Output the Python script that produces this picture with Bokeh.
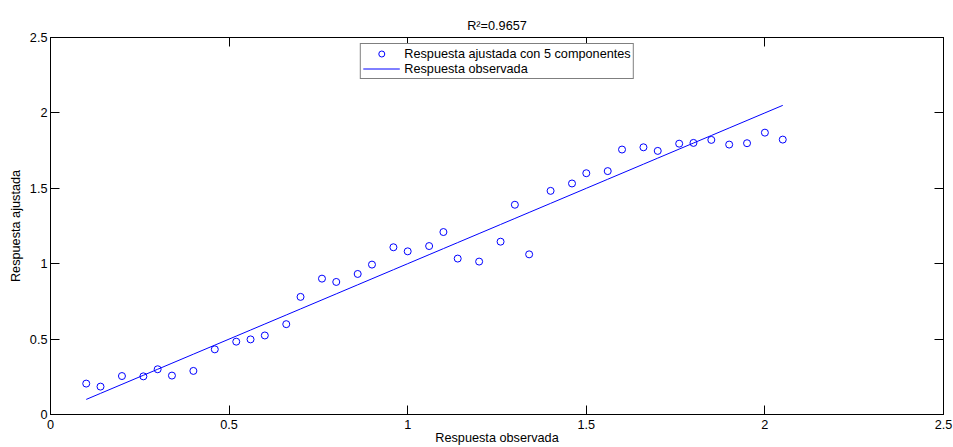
from bokeh.plotting import figure
from bokeh.models import Range1d, LinearAxis, FixedTicker, NumeralTickFormatter, Legend, LegendItem
from bokeh.embed import file_html
from bokeh.resources import INLINE

# Observed response values and the response fitted with 5 components
observada = [0.10, 0.14, 0.20, 0.26, 0.30, 0.34, 0.40, 0.46, 0.52, 0.56,
             0.60, 0.66, 0.70, 0.76, 0.80, 0.86, 0.90, 0.96, 1.00, 1.06,
             1.10, 1.14, 1.20, 1.26, 1.30, 1.34, 1.40, 1.46, 1.50, 1.56,
             1.60, 1.66, 1.70, 1.76, 1.80, 1.85, 1.90, 1.95, 2.00, 2.05]
ajustada = [0.205, 0.185, 0.255, 0.253, 0.300, 0.258, 0.289, 0.432, 0.483, 0.498,
            0.524, 0.599, 0.780, 0.901, 0.879, 0.932, 0.994, 1.109, 1.082, 1.117,
            1.210, 1.034, 1.014, 1.146, 1.391, 1.062, 1.483, 1.532, 1.600, 1.614,
            1.757, 1.772, 1.748, 1.796, 1.801, 1.821, 1.790, 1.799, 1.869, 1.823]

ticks = [0, 0.5, 1, 1.5, 2, 2.5]
r2_text = "R²=0.9657"

FONT = "Liberation Sans"
FS = "12.7px"
BLUE = "#0000ff"

p = figure(width=953, height=447, output_backend="svg", toolbar_location=None,
           x_range=Range1d(0, 2.5), y_range=Range1d(0, 2.5),
           min_border_left=50, min_border_right=10, min_border_top=37, min_border_bottom=32,
           x_axis_label="Respuesta observada", y_axis_label="Respuesta ajustada")

p.background_fill_color = "white"
p.border_fill_color = "white"
p.outline_line_color = "black"
p.outline_line_width = 1
p.grid.visible = False

p.title.text = r2_text
p.title.align = "center"
p.title.text_font = FONT
p.title.text_font_size = FS
p.title.text_font_style = "normal"
p.title.text_color = "black"
p.title.standoff = 10


def style_common(ax):
    ax.axis_line_color = "black"
    ax.major_tick_line_color = "black"
    ax.minor_tick_line_color = "black"
    ax.major_label_text_font = FONT
    ax.major_label_text_font_size = FS
    ax.major_label_text_color = "black"
    ax.axis_label_text_font = FONT
    ax.axis_label_text_font_size = FS
    ax.axis_label_text_font_style = "normal"
    ax.axis_label_text_color = "black"


def style_labelled(ax):
    # labelled axis: inward major ticks with compact numbers
    ax.ticker = FixedTicker(ticks=ticks)
    ax.formatter = NumeralTickFormatter(format="0.[0]")
    ax.major_tick_in = 9
    ax.major_tick_out = 0
    ax.minor_tick_in = 0
    ax.minor_tick_out = 0
    style_common(ax)


def style_mirror(ax):
    # mirrored box axis: same tick marks, no labels
    ax.ticker = FixedTicker(ticks=[], minor_ticks=ticks)
    ax.major_tick_in = 0
    ax.major_tick_out = 0
    ax.minor_tick_in = 9
    ax.minor_tick_out = 0
    ax.major_label_standoff = 0
    style_common(ax)


style_labelled(p.xaxis[0])
style_labelled(p.yaxis[0])
p.xaxis[0].major_label_standoff = 5
p.xaxis[0].axis_label_standoff = -1
p.yaxis[0].major_label_standoff = 3
p.yaxis[0].axis_label_standoff = 4

top_axis = LinearAxis()
right_axis = LinearAxis()
style_mirror(top_axis)
style_mirror(right_axis)
p.add_layout(top_axis, "above")
p.add_layout(right_axis, "right")

fit_line = p.line(observada, observada, line_color=BLUE, line_width=1)
pts = p.scatter(observada, ajustada, marker="circle", size=7, line_color=BLUE,
                fill_color=None, line_width=1)

legend = Legend(items=[
    LegendItem(label="Respuesta ajustada con 5 componentes", renderers=[pts]),
    LegendItem(label="Respuesta observada", renderers=[fit_line]),
], location="top_center")
legend.margin = 6
legend.padding = 2
legend.spacing = 0
legend.glyph_width = 37
legend.glyph_height = 15
legend.label_height = 15
legend.label_standoff = 5
legend.label_text_font = FONT
legend.label_text_font_size = FS
legend.label_text_color = "black"
legend.border_line_color = "black"
legend.border_line_width = 1
legend.background_fill_color = "white"
legend.background_fill_alpha = 1
p.add_layout(legend, "center")

open("out.html", "w").write(file_html(p, INLINE))
